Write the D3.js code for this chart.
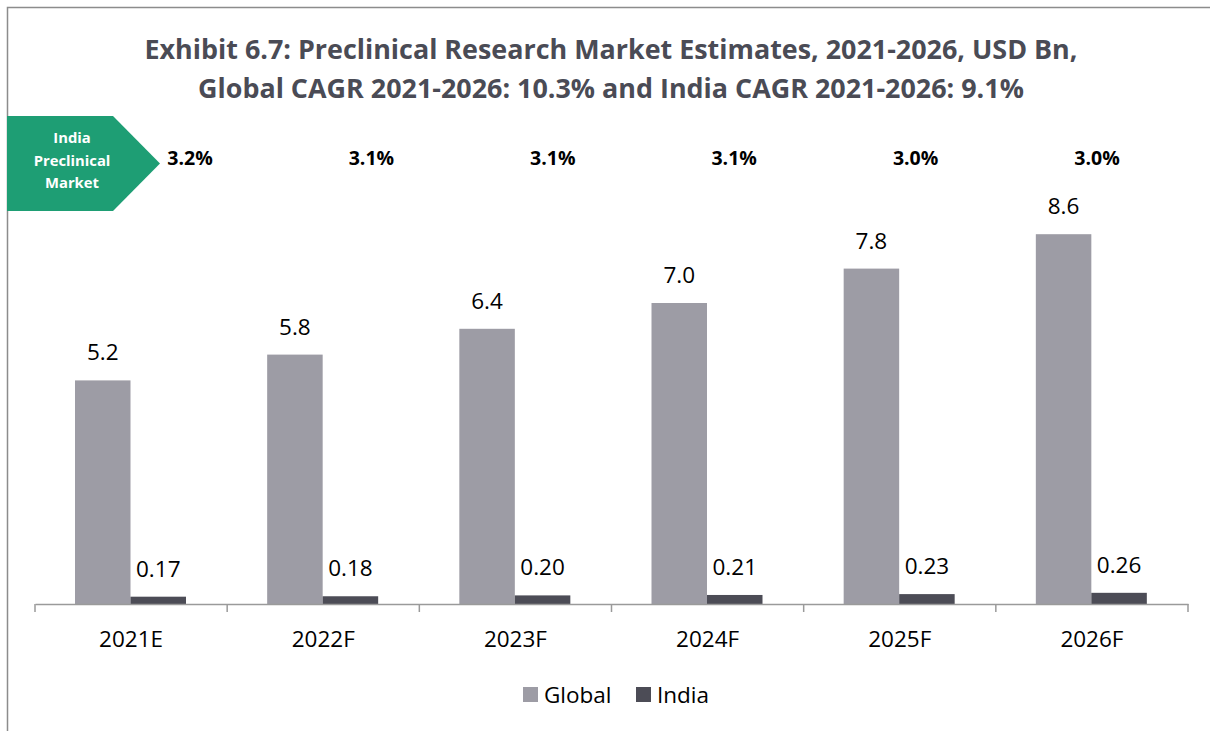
<!DOCTYPE html>
<html>
<head>
<meta charset="utf-8">
<script src="https://cdn.jsdelivr.net/npm/d3@7"></script>
<style>
  html, body { margin: 0; padding: 0; background: #fff; }
  svg { display: block; }
</style>
</head>
<body>
<svg id="chart" width="1210" height="731"></svg>
<script>
// Chart data
const categories = ["2021E", "2022F", "2023F", "2024F", "2025F", "2026F"];
const globalValues = [5.2, 5.8, 6.4, 7.0, 7.8, 8.6];
const indiaValues = [0.17, 0.18, 0.20, 0.21, 0.23, 0.26];
const indiaShare = ["3.2%", "3.1%", "3.1%", "3.1%", "3.0%", "3.0%"];
const seriesNames = ["Global", "India"];
const titleLines = [
  "Exhibit 6.7: Preclinical Research Market Estimates, 2021-2026, USD Bn,",
  "Global CAGR 2021-2026: 10.3% and India CAGR 2021-2026: 9.1%"
];
const badgeLines = ["India", "Preclinical", "Market"];

const colors = { Global: "#9d9ca5", India: "#4c4c56" };
const font = "'Open Sans', Lato, sans-serif";

const svg = d3.select("#chart");

// Frame lines (top and left)
svg.append("path")
  .attr("d", "M7.5,731 L7.5,7.5 L1210,7.5")
  .attr("fill", "none")
  .attr("stroke", "#8c8c8c")
  .attr("stroke-width", 1.5);

// Title
svg.append("g").selectAll("text")
  .data(titleLines)
  .join("text")
  .attr("x", 611)
  .attr("y", (d, i) => 59 + i * 39)
  .attr("text-anchor", "middle")
  .attr("font-family", font)
  .attr("font-weight", "bold")
  .attr("font-size", 26.9)
  .attr("fill", "#4a4b55")
  .text(d => d);

// Scales
const baseline = 604;
const x = d3.scaleBand().domain(categories).range([35, 1188]).paddingInner(0).paddingOuter(0);
const sub = d3.scaleBand().domain(seriesNames).range([40, 151]).padding(0);
const y = d3.scaleLinear().domain([0, 10]).range([baseline, baseline - 430]);

// Bars
const groups = svg.append("g").selectAll("g")
  .data(categories)
  .join("g")
  .attr("transform", d => `translate(${x(d)},0)`);

const barData = (c, i) => [
  { s: "Global", v: globalValues[i], label: globalValues[i].toFixed(1) },
  { s: "India", v: indiaValues[i], label: indiaValues[i].toFixed(2) }
];

groups.selectAll("rect")
  .data(barData)
  .join("rect")
  .attr("x", d => sub(d.s))
  .attr("width", sub.bandwidth())
  .attr("y", d => y(d.v))
  .attr("height", d => baseline - y(d.v))
  .attr("fill", d => colors[d.s]);

groups.selectAll("text.val")
  .data(barData)
  .join("text")
  .attr("class", "val")
  .attr("x", d => sub(d.s) + sub.bandwidth() / 2)
  .attr("y", d => y(d.v) - 20)
  .attr("text-anchor", "middle")
  .attr("font-family", font)
  .attr("font-size", 22.5)
  .attr("fill", "#000")
  .text(d => d.label);

// Axis
const axis = d3.axisBottom(x).tickSize(0).tickPadding(27);
const axisG = svg.append("g")
  .attr("transform", `translate(0,${baseline})`)
  .call(axis);
axisG.select(".domain").attr("stroke", "#9a9a9a").attr("stroke-width", 1.5);
axisG.selectAll("text")
  .attr("font-family", font)
  .attr("font-size", 22.5)
  .attr("fill", "#000");
// Category boundary ticks
const bounds = categories.map(c => x(c)).concat([x.range()[1]]);
axisG.selectAll("line.bound")
  .data(bounds)
  .join("line")
  .attr("class", "bound")
  .attr("x1", d => d).attr("x2", d => d)
  .attr("y1", 0).attr("y2", 8)
  .attr("stroke", "#9a9a9a")
  .attr("stroke-width", 1.5);

// Badge
const badge = svg.append("g");
badge.append("path")
  .attr("d", "M7,116 L113,116 L160,163.5 L113,211 L7,211 Z")
  .attr("fill", "#1e9e74");
badge.selectAll("text")
  .data(badgeLines)
  .join("text")
  .attr("x", 72)
  .attr("y", (d, i) => 143 + i * 22.5)
  .attr("text-anchor", "middle")
  .attr("font-family", font)
  .attr("font-weight", "bold")
  .attr("font-size", 14.8)
  .attr("fill", "#fff")
  .text(d => d);

// India share of global market
const shareX = d3.scalePoint().domain(categories).range([190, 1097]);
svg.append("g").selectAll("text")
  .data(categories)
  .join("text")
  .attr("x", d => shareX(d))
  .attr("y", 165)
  .attr("text-anchor", "middle")
  .attr("font-family", font)
  .attr("font-weight", "bold")
  .attr("font-size", 19.5)
  .attr("fill", "#000")
  .text((d, i) => indiaShare[i]);

// Legend
const legendItems = [{ s: "Global", x: 523 }, { s: "India", x: 636 }];
const lg = svg.append("g").selectAll("g")
  .data(legendItems)
  .join("g")
  .attr("transform", d => `translate(${d.x},687)`);
lg.append("rect").attr("width", 15).attr("height", 15).attr("fill", d => colors[d.s]);
lg.append("text")
  .attr("x", 21)
  .attr("y", 16)
  .attr("font-family", font)
  .attr("font-size", 22.5)
  .attr("fill", "#000")
  .text(d => d.s);
</script>
</body>
</html>
